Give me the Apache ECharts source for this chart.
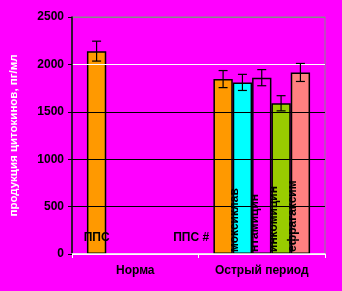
<!DOCTYPE html>
<html><head><meta charset="utf-8">
<script src="https://cdn.jsdelivr.net/npm/echarts@6/dist/echarts.min.js"></script>
<style>html,body{margin:0;padding:0;background:#FF00FF}#c{width:342px;height:291px}</style>
</head><body><div id="c"></div>
<script>
const categories = ['Норма', 'Острый период'];
const seriesNames = ['ППС', 'амоксиклав', 'гентамицин', 'линкомицин', 'эфрагаксим'];
const seriesColors = ['#FF9900', '#00FFFF', '#FF00FF', '#99CC00', '#FF8080'];
const valsPPS = [2140, 1845];
const valsAmox = [null, 1810];
const valsGent = [null, 1860];
const valsLinc = [null, 1590];
const valsEfr = [null, 1915];
const errPPS = [105, 90];
const errAmox = [null, 85];
const errGent = [null, 85];
const errLinc = [null, 80];
const errEfr = [null, 95];
const labelsPPS = ['ППС', 'ППС #'];
const labelsAmox = [null, 'моксиклав'];
const labelsGent = [null, 'нтамицин'];
const labelsLinc = [null, 'инкомицин'];
const labelsEfr = [null, 'ефрагаксим'];
const yTicks = [0, 500, 1000, 1500, 2000, 2500];

const allVals = [valsPPS, valsAmox, valsGent, valsLinc, valsEfr];
const allErr = [errPPS, errAmox, errGent, errLinc, errEfr];
const allLabels = [labelsPPS, labelsAmox, labelsGent, labelsLinc, labelsEfr];
const gapFrac = 0.236;
const nSeries = allVals.length;

const font = { fontFamily: 'Liberation Sans', fontWeight: 'bold', fontSize: 12, color: '#000' };

const barSeries = allVals.map((vals, s) => ({
  type: 'bar', name: seriesNames[s], barGap: '0%', barCategoryGap: (gapFrac * 100) + '%',
  itemStyle: { color: seriesColors[s], borderColor: '#000', borderWidth: 1.5 },
  z: 2,
  data: vals.map((v, i) => {
    if (v == null) return null;
    const txt = allLabels[s][i];
    let label;
    if (s === 0) {
      label = Object.assign({ show: true, position: 'insideBottom', distance: 10, formatter: txt,
        offset: i === 1 ? [-32, 0] : [0, 0] }, font);
    } else {
      label = Object.assign({ show: true, position: 'insideBottom', distance: 2, rotate: 90,
        align: 'left', verticalAlign: 'middle', formatter: txt, offset: [0, -7.5] }, font);
    }
    return { value: v, label: label };
  })
}));

const errData = [];
allVals.forEach((vals, s) => vals.forEach((v, i) => {
  if (v != null) errData.push([i, v, allErr[s][i], s]);
}));

const errSeries = {
  type: 'custom', z: 5, data: errData, encode: { x: 0, y: 1 },
  renderItem: function (params, api) {
    const cat = api.value(0), v = api.value(1), e = api.value(2), s = api.value(3);
    const band = api.size([1, 0])[0];
    const bw = band * (1 - gapFrac) / nSeries;
    const cx = api.coord([cat, v])[0] + (s - (nSeries - 1) / 2) * bw;
    const yt = api.coord([cat, v + e])[1];
    const yb = api.coord([cat, v - e])[1];
    const hw = 4.5;
    const st = { stroke: '#000', lineWidth: 1.2 };
    return { type: 'group', children: [
      { type: 'line', shape: { x1: cx, y1: yt, x2: cx, y2: yb }, style: st },
      { type: 'line', shape: { x1: cx - hw, y1: yt, x2: cx + hw, y2: yt }, style: st },
      { type: 'line', shape: { x1: cx - hw, y1: yb, x2: cx + hw, y2: yb }, style: st }
    ] };
  }
};

const chart = echarts.init(document.getElementById('c'), null, { renderer: 'canvas' });
chart.setOption({
  backgroundColor: '#FF00FF',
  animation: false,
  grid: { left: 72, right: 17, top: 17, bottom: 37, show: true, borderColor: '#888', borderWidth: 1, backgroundColor: 'transparent' },
  xAxis: {
    type: 'category', data: categories,
    axisLine: { show: true, lineStyle: { color: '#fff', width: 1.5 } },
    axisTick: { show: true, length: 4, lineStyle: { color: '#fff' } },
    axisLabel: Object.assign({ margin: 11, textShadowColor: '#fff', textShadowOffsetX: -1, textShadowOffsetY: -1 }, font),
    z: 3
  },
  yAxis: {
    type: 'value', min: yTicks[0], max: yTicks[yTicks.length - 1], interval: 500,
    name: 'продукция цитокинов, пг/мл', nameLocation: 'middle', nameGap: 52,
    nameTextStyle: { fontFamily: 'Liberation Sans', fontWeight: 'bold', fontSize: 11.5, color: '#fff' },
    axisLine: { show: true, lineStyle: { color: '#000', width: 1.5 } },
    axisTick: { show: true, length: 4, lineStyle: { color: '#000' } },
    axisLabel: Object.assign({ margin: 8, textShadowColor: '#fff', textShadowOffsetX: -1, textShadowOffsetY: -1,
      formatter: v => String(v) }, font),
    splitLine: { show: true, lineStyle: { color: ['#fff', '#000', '#000', '#000', '#fff', '#888'], width: 1.2 } },
    z: 3
  },
  series: barSeries.concat([errSeries])
});
</script></body></html>
